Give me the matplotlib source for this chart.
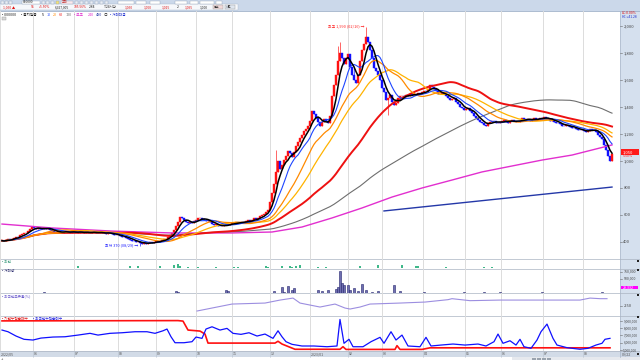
import matplotlib
matplotlib.use("Agg")
import matplotlib.pyplot as plt
import numpy as np
import pandas as pd
from matplotlib.patches import Rectangle

plt.rcParams['font.family'] = ['Noto Sans CJK KR', 'DejaVu Sans']

W, H = 640, 360

# ---------------- data ----------------
first_open = 405
closes = [
    410, 405, 415, 420, 418, 425, 432, 440, 436, 450, 458, 465, 470, 485, 500, 510, 505, 498, 502, 495,
    500, 505, 498, 503, 490, 480, 476, 472, 478, 474, 470, 476, 480, 473, 468, 475, 478, 472, 470, 474,
    472, 468, 475, 470, 466, 472, 476, 470, 465, 468, 472, 466, 462, 468, 465, 458, 455, 450, 452, 445,
    440, 436, 430, 425, 418, 410, 405, 398, 402, 392, 388, 395, 385, 392, 398, 395, 400, 405, 402, 410,
    415, 420, 425, 440, 455, 470, 490, 520, 545, 585, 575, 560, 545, 540, 548, 540, 552, 565, 575, 580,
    570, 565, 558, 560, 548, 535, 526, 530, 520, 515, 518, 525, 530, 528, 535, 540, 538, 545, 542, 548,
    550, 545, 555, 560, 552, 565, 575, 570, 580, 590, 600, 610, 625, 640, 700, 760, 830, 920, 1000, 940,
    970, 1010, 1040, 1075, 1060, 1030, 1070, 1110, 1140, 1170, 1195, 1220, 1235, 1260, 1300, 1370, 1350, 1320, 1290, 1260,
    1290, 1310, 1300, 1285, 1330, 1480, 1560, 1640, 1740, 1800, 1760, 1720, 1760, 1790, 1700, 1640, 1600, 1580, 1640, 1740,
    1820, 1870, 1920, 1880, 1820, 1760, 1690, 1670, 1640, 1600, 1540, 1510, 1450, 1470, 1490, 1440, 1415, 1430, 1465, 1480,
    1485, 1475, 1490, 1480, 1495, 1488, 1500, 1492, 1505, 1498, 1510, 1520, 1515, 1535, 1560, 1545, 1530, 1515, 1500, 1495,
    1505, 1498, 1485, 1470, 1450, 1462, 1468, 1440, 1425, 1400, 1390, 1375, 1385, 1395, 1370, 1355, 1335, 1318, 1305, 1290,
    1285, 1270, 1262, 1280, 1292, 1300, 1295, 1278, 1282, 1290, 1298, 1302, 1290, 1285, 1298, 1305, 1295, 1288, 1292, 1300,
    1318, 1308, 1304, 1312, 1300, 1310, 1315, 1305, 1312, 1320, 1318, 1325, 1315, 1310, 1300, 1305, 1290, 1285, 1278, 1275,
    1262, 1258, 1266, 1262, 1250, 1248, 1242, 1238, 1232, 1228, 1230, 1220, 1212, 1225, 1240, 1232, 1228, 1215, 1195, 1180,
    1160, 1120, 1080, 1040, 1000, 1050,
]
wick_hi_idx = [137, 168, 169, 176, 182]
wick_hi_val = [1085, 1850, 1880, 1700, 1990]
wick_lo_idx = [69, 193]
wick_lo_val = [370, 1340]

ma_fast = [5, 10, 20, 30, 60, 120]
ma240_idx = [0, 25, 55, 85, 115, 135, 150, 165, 180, 195, 210, 225, 240, 255, 270, 285, 305]
ma240_val = [533, 504, 481, 467, 467, 474, 511, 578, 652, 733, 800, 859, 919, 963, 1007, 1044, 1119]
ma480_idx = [191, 305]
ma480_val = [630, 807]

month_pos = [15.5, 36, 58, 77, 97, 115, 134, 154, 173, 190, 210.5, 231.5, 249.5, 270.5, 290.5]
month_lbl = ['06', '07', '08', '09', '10', '11', '12', '2023/01', '02', '03', '04', '05', '06', '07', '08']
price_ticks = [400, 600, 800, 1000, 1200, 1400, 1600, 1800, 2000]

green_idx = [38, 64, 68, 79, 86, 88, 89, 93, 98, 107, 116, 118, 132, 133, 140, 144, 145, 147, 149, 158, 162,
             179, 188, 200, 207, 208, 222, 241, 245]
green_val = [2, 2, 2, 2, 3, 4, 2, 1, 1, 1, 1, 1, 2, 1, 2, 2, 1, 2, 3, 1, 1, 2, 3, 3, 2, 2, 1, 1, 1]

vol_idx = [21, 87, 88, 112, 113, 136, 140, 141, 143, 145, 146, 158, 160, 163, 167, 168, 169, 170, 171, 173,
           174, 176, 178, 180, 182, 185, 188, 196, 199, 211, 231, 241, 249, 270, 300]
vol_val = [15e3, 70e3, 40e3, 100e3, 60e3, 60e3, 190e3, 40e3, 225e3, 80e3, 165e3, 100e3, 50e3, 80e3, 120e3,
           200e3, 760e3, 330e3, 285e3, 285e3, 80e3, 170e3, 60e3, 310e3, 80e3, 40e3, 50e3, 260e3, 50e3, 40e3,
           25e3, 30e3, 20e3, 15e3, 25e3]

own_idx = [97.5, 115, 131.5, 139, 145.5, 149, 159, 166.5, 171.5, 174, 179, 184, 199, 211.5, 223, 225, 234,
           249, 289, 294, 299, 302.5]
own_val = [2.24, 2.59, 2.64, 2.79, 2.89, 2.64, 2.44, 2.59, 2.39, 2.34, 2.44, 2.59, 2.64, 2.69, 2.81, 2.86,
           2.76, 2.79, 2.79, 2.89, 2.86, 2.86]

red_idx = [0, 88, 90.5, 93, 99, 101.5, 103, 136.5, 138, 140, 146.5, 169, 170.5, 172, 196.5, 197.5, 199, 210, 214, 304]
red_val = [9.0, 9.04, 8.97, 7.74, 7.6, 7.19, 5.95, 5.95, 6.2, 5.82, 5.1, 5.1, 5.45, 5.08, 5.08, 5.6, 5.08, 5.08,
           5.3, 5.3]
blue_idx = [0, 3, 7, 11, 15.5, 19.5, 25.5, 31.5, 38, 44, 48, 54, 60, 66.5, 72.5, 76.5, 80.5, 82.5, 84.5, 86.5,
            91, 95, 97, 100, 102, 105, 109, 112.5, 115.5, 119.5, 123.5, 127.5, 131.5, 135.5, 138, 140, 142, 145,
            150, 156, 162.5, 167.5, 169, 171, 173.5, 175.5, 180.5, 184.5, 189, 191, 194.5, 197, 200, 203, 209,
            212, 214.5, 219.5, 225.5, 231.5, 238, 242, 246, 248, 250.5, 254, 257, 259, 261, 264.5, 267.5, 269.5,
            272.5, 275.5, 277.5, 282.5, 289, 293, 297, 300, 301.5, 304]
blue_val = [7.74, 7.51, 6.92, 6.47, 6.37, 6.64, 6.78, 6.82, 7.05, 7.29, 7.05, 7.29, 7.37, 7.51, 7.51, 7.29,
            7.64, 7.88, 6.82, 6.0, 6.0, 6.14, 6.78, 6.6, 7.88, 8.19, 7.74, 7.97, 7.29, 7.15, 7.37, 6.92, 7.19,
            6.6, 7.64, 6.82, 6.14, 5.78, 5.55, 5.55, 5.45, 5.55, 9.2, 5.92, 6.47, 5.45, 5.45, 6.14, 6.74, 5.92,
            7.51, 6.37, 7.05, 5.55, 5.45, 6.74, 5.55, 5.68, 5.82, 5.68, 5.82, 5.55, 6.14, 7.19, 5.92, 6.27, 5.68,
            6.47, 5.45, 5.23, 6.37, 7.51, 8.56, 6.6, 5.68, 5.32, 5.1, 5.23, 5.68, 5.92, 6.47, 6.6]

# ---------------- figure ----------------
FS = 3.0
fig = plt.figure(figsize=(6.4, 3.6), dpi=100)
fig.patch.set_facecolor('white')

bg = fig.add_axes([0, 0, 1, 1], zorder=0)
bg.set_xlim(0, W); bg.set_ylim(H, 0); bg.axis('off')
fg = fig.add_axes([0, 0, 1, 1], zorder=6)
fg.set_xlim(0, W); fg.set_ylim(H, 0); fg.axis('off'); fg.patch.set_alpha(0)


def rect(a, x, y, w, h, fc, ec='none', lw=0.4, z=1):
    a.add_patch(Rectangle((x, y), w, h, facecolor=fc, edgecolor=ec, lw=lw, zorder=z))


def txt(x, y, s, color='#333333', size=FS, ha='left', **kw):
    fg.text(x, y, s, color=color, fontsize=size, ha=ha, va='center', **kw)


def tw(s, size):
    em = size * 100 / 72
    w = 0
    for ch in s:
        if ord(ch) >= 0x1100:
            w += em * 0.95
        elif ch == ' ':
            w += em * 0.25
        else:
            w += em * 0.55
    return w


# toolbar
rect(bg, 0, 0, 640, 11, '#cbd8ea')
rect(bg, 0, 4.3, 238, 5.6, '#f6f8fb', ec='#a9b8cc', lw=0.3)
bg.plot([0, 640], [11, 11], color='#9fb1c9', lw=0.6)
for xx, ww, col in [(1, 3, '#e9eef5'), (5, 3, '#e9eef5'), (9, 3, '#e9eef5'), (22, 18, 'white'),
                    (42, 3, '#e9eef5'), (46, 3, '#e9eef5'), (51, 3, '#e9eef5'), (56, 3, '#f4e27a'),
                    (61, 12, '#fbe9ec'), (75, 3, '#e9eef5'), (80, 3, '#e9eef5'), (85, 3, '#e9eef5'),
                    (90, 3, '#e9eef5'), (95, 3, '#e9eef5'), (100, 3, '#e9eef5'), (105, 3, '#e9eef5'),
                    (118, 16, 'white'), (136, 10, 'white'), (150, 10, 'white'), (175, 12, 'white'),
                    (190, 8, 'white'), (200, 14, 'white'), (216, 6, 'white')]:
    rect(bg, xx, 0.6, ww, 3.2, col, ec='#8797ad', lw=0.25)
fg.text(23, 2.2, '000000', fontsize=2.3, va='center', color='#222222')
fg.text(62, 2.2, '조회', fontsize=2.3, va='center', color='#c03030')
for xx, s, col in [(3, '1,050 ▲', '#e01010'), (31, '55', '#e01010'), (39, '+5.50%', '#e01010'),
                   (55, '6,927,005', '#222222'), (74, '105.56%', '#e01010'), (89, '2.84', '#222222'),
                   (104, 'T.24시간', '#222222'), (125, '1,050', '#e01010'), (144, '1,060', '#e01010'),
                   (162, '1,015', '#e01010'), (177, '2', '#222222'), (185, '1,095', '#e01010'),
                   (200, '1,000', '#222222')]:
    txt(xx, 7.1, s, color=col, size=2.4)
rect(bg, 213, 5, 10, 4.3, '#f1d9d9', ec='#999999', lw=0.3)
rect(bg, 225, 5, 10, 4.3, '#dfe6f0', ec='#999999', lw=0.3)
txt(214, 7.1, '통보', size=2.2)
txt(226, 7.1, '차트', size=2.2)

# right strip, date strip, bottom
rect(bg, 620, 11, 20, 340, '#d5e0ee')
bg.plot([620, 620], [11, 357], color='#a9b6c8', lw=0.5)
rect(bg, 0, 351, 620, 6, '#d2dbe7')
rect(bg, 620, 351, 20, 6, '#c9d4e3')
for yy in [258.8, 268.5, 293.2, 315.6, 351]:
    bg.plot([0, 640], [yy, yy], color='#aab4c2', lw=0.5)
rect(bg, 512, 357.3, 128, 2.7, '#e6e9ee')
for xx in [532, 537, 542, 547]:
    rect(bg, xx, 357.5, 3.5, 2.3, '#9aa3ae')
txt(1, 358.6, '+', size=3)


def add_ax(y0, y1, lo, hi):
    a = fig.add_axes([0, 1 - y1 / H, 620 / W, (y1 - y0) / H], zorder=2)
    a.set_xlim(-1, 309)
    a.set_ylim(lo, hi)
    for s in a.spines.values():
        s.set_visible(False)
    a.set_xticks([]); a.set_yticks([])
    a.patch.set_alpha(0)
    for m in month_pos:
        a.axvline(m, color='#dcdcdc', lw=0.7, zorder=0)
    a.axvline(-1, color='#dcdcdc', lw=0.7, zorder=0)
    return a


def rlabel(a, v, s, color='#444444', size=FS):
    tr = a.get_yaxis_transform()
    a.plot([1.0, 1.004], [v, v], transform=tr, color='#666666', lw=0.4, clip_on=False)
    a.text(1.0055, v, s, transform=tr, fontsize=size, color=color, va='center', ha='left', clip_on=False)


# ---------------- main price panel ----------------
p_top = 1000 + (161 - 11) / 0.135
p_bot = 1000 - (258.5 - 161) / 0.135
ax = add_ax(11, 258.5, p_bot, p_top)

c = np.array(closes, dtype=float)
n = len(c)
idx = np.arange(n)
o = np.concatenate([[first_open], c[:-1]])
hi = np.maximum(o, c)
lo = np.minimum(o, c)
for i, v in zip(wick_hi_idx, wick_hi_val):
    hi[i] = v
for i, v in zip(wick_lo_idx, wick_lo_val):
    lo[i] = v
cols = np.where(c >= o, '#ff1010', '#1010ff')
ax.vlines(idx, lo, hi, colors=cols, lw=0.45, zorder=3)
ax.bar(idx, np.maximum(np.abs(c - o), 3), bottom=np.minimum(o, c), width=0.7, color=cols,
       edgecolor=cols, linewidth=0.3, zorder=3)

s = pd.Series(c)
ma_style = {5: ('#000000', 1.1), 10: ('#1e46ff', 0.8), 20: ('#ff8a00', 0.9), 30: ('#ffb300', 0.9),
            60: ('#ee1111', 1.4), 120: ('#6e6e6e', 0.8)}
ax.plot(ma240_idx, ma240_val, color='#e22fcf', lw=1.0, zorder=4)
ax.plot(ma480_idx, ma480_val, color='#2438a8', lw=1.0, zorder=4)
for k in ma_fast[::-1]:
    colr, lw = ma_style[k]
    ax.plot(idx, s.rolling(k, min_periods=1).mean(), color=colr, lw=lw, zorder=5)

ax.text(181.0, 1995, '최고 1,990 (02/16) →', color='#ff2020', fontsize=2.8, ha='right', va='center', zorder=6)
ax.text(68.3, 372, '최저 370 (08/29) →', color='#2020ff', fontsize=2.8, ha='right', va='center', zorder=6)

for p in price_ticks:
    rlabel(ax, p, f'{p:,}')
# current price box
trm = ax.get_yaxis_transform()
box_p = 1067
ax.add_patch(Rectangle((1.001, box_p - 20), 0.03, 40, transform=trm, facecolor='#ff1a1a',
                       edgecolor='none', clip_on=False, zorder=7))
ax.text(1.005, box_p, f'{closes[-1]:,}', transform=trm, fontsize=FS, color='white', va='center',
        clip_on=False, zorder=8)
ax.text(1.005, 1035, '5.50%', transform=trm, fontsize=2.6, color='#ff1a1a', va='center', clip_on=False)

txt(621.5, 13.5, 'LC:0.00%', color='#e01010', size=2.5)
txt(621.5, 17, 'HC:+41.28', color='#2030d0', size=2.4)

# legend line
x0 = 2
for s_, col in [('• 000000', '#222222'), ('• 골지일봉', '#222222'), ('5', '#000000'), ('10', '#1e46ff'),
                ('20', '#ff8a00'), ('60', '#ee1111'), ('120', '#6e6e6e'), ('• 보조', '#e22fcf'),
                ('240', '#e22fcf'), ('480', '#2438a8'), ('◎', '#555555'), ('• 거래대금', '#2030d0')]:
    txt(x0, 14.5, s_, color=col, size=2.7)
    x0 += tw(s_, 2.7) + 2.2
rect(fg, 2, 17.2, 4, 3, '#d8d8d8', ec='#999999', lw=0.3)

# ---------------- panel A (green bars) ----------------
axA = add_ax(258.8, 268.5, -0.6, 8.4)
axA.bar(green_idx, green_val, width=0.8, color='#3fb88a', zorder=3)
txt(2, 262, '• 외인', color='#3a9a7a', size=2.7)

# ---------------- panel B (volume) ----------------
axB = add_ax(268.5, 293.2, -20e3, 857e3)
axB.plot([0, 305], [0, 0], color='#8c8cb8', lw=0.5, ls=(0, (1, 1)), zorder=2)
axB.bar(vol_idx, vol_val, width=0.9, color='#6f6fb0', edgecolor='#24246e', linewidth=0.4, zorder=3)
txt(2, 270.8, '• 거래량', color='#303070', size=2.7)
rlabel(axB, 750e3, '750,000', size=2.6)
rlabel(axB, 500e3, '500,000', size=2.6)
trb = axB.get_yaxis_transform()
axB.add_patch(Rectangle((1.001, 122e3), 0.028, 130e3, transform=trb, facecolor='#ff00ff',
                        edgecolor='none', clip_on=False, zorder=7))
axB.text(1.005, 187e3, '29,332', transform=trb, fontsize=2.6, color='white', va='center', clip_on=False,
         zorder=8)

# ---------------- panel C (purple line) ----------------
axC = add_ax(293.2, 315.6, 2.01, 3.135)
axC.plot(own_idx, own_val, color='#9c8ee0', lw=0.8, zorder=3)
txt(2, 296, '• 외국인보유율(%)', color='#6a5acd', size=2.7)
rlabel(axC, 2.5, '2.50')

# ---------------- panel D (red / blue lines) ----------------
axD = add_ax(315.6, 351, 4.863, 9.726)
axD.plot(red_idx, red_val, color='#ff1010', lw=1.2, zorder=3)
axD.plot(blue_idx, blue_val, color='#1010ff', lw=0.9, zorder=4)
lab1 = '• 기관누적순매수'
txt(2, 318.8, lab1, color='#e01010', size=2.7)
txt(2 + tw(lab1, 2.7) + 2, 318.8, '• 외국인누적순매수', color='#2020e0', size=2.7)
for v in [5, 6, 7, 8, 9]:
    rlabel(axD, v, f'{v * 1000000:,}', size=2.3)

# panel squares
for yy in [261, 270.3, 294.8, 317.3, 353.5]:
    rect(fg, 636.5, yy - 1.0, 2.0, 2.0, '#222222')

# date strip labels
trd = lambda i: 2 + 2 * i
txt(1, 354, '2022/05', size=2.6, color='#555555')
for m, l in zip(month_pos, month_lbl):
    txt(trd(m) + 1, 354, l, size=2.6, color='#555555')
    bg.plot([trd(m), trd(m)], [351, 357], color='#b8c2cf', lw=0.4)
txt(622, 354, '09/22', size=2.6, color='#555555')

fig.savefig('out.png', dpi=100)
